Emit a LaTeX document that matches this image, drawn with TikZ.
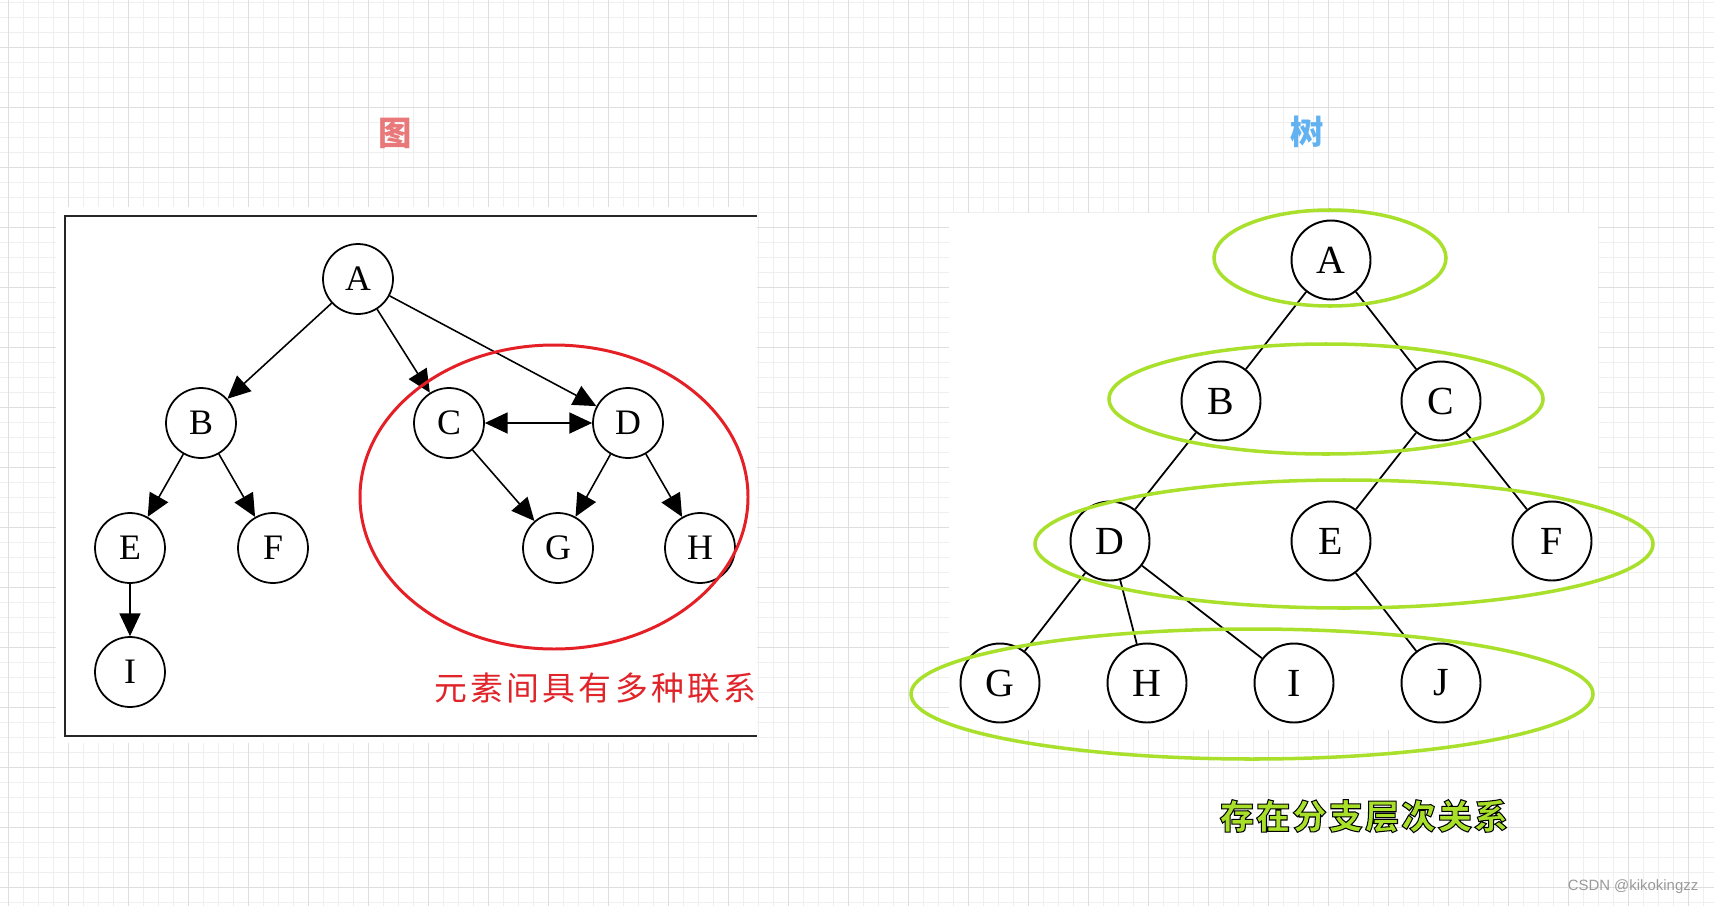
\documentclass[tikz,border=0pt]{standalone}
\usepackage{fontspec}
\setmainfont{Liberation Serif}
\newfontfamily\cjkfont{Noto Sans CJK SC}
\newfontfamily\cjkspaced[LetterSpace=10]{Noto Sans CJK SC}
\newfontfamily\cjkoutline[LetterSpace=6,BoldFeatures={FakeBold=3}]{Noto Sans CJK SC}
\newfontfamily\marksans{Liberation Sans}
\usepackage{xcolor}
\usetikzlibrary{arrows.meta}
\definecolor{gridMinor}{HTML}{EFEFEF}
\definecolor{gridMajor}{HTML}{DEDEDE}
\definecolor{ringGreen}{HTML}{A8E02C}
\definecolor{ringRed}{HTML}{E51F26}
\definecolor{noteRed}{HTML}{E0242A}
\definecolor{titleRed}{HTML}{E8787A}
\definecolor{titleBlue}{HTML}{62B2F2}
\definecolor{markGray}{HTML}{9A9A9A}

\begin{document}
\begin{tikzpicture}[x=0.02cm,y=-0.02cm,
    gnode/.style={circle,draw,line width=1pt,minimum size=1.4cm,inner sep=0pt,
      font=\fontsize{20.4}{20}\selectfont},
    tnode/.style={circle,draw,line width=1.1pt,minimum size=1.58cm,inner sep=0pt,
      font=\fontsize{22.7}{22}\selectfont},
    garrow/.style={line width=0.9pt,-{Triangle[length=13pt,width=12pt]}},
    gboth/.style={line width=0.9pt,{Triangle[length=13pt,width=12pt]}-{Triangle[length=13pt,width=12pt]}},
    tedge/.style={line width=1pt},
    levelring/.style={draw=ringGreen,line width=2pt},
    gridminor/.style={gridMinor,line width=0.55pt},
    gridmajor/.style={gridMajor,line width=0.55pt}]
  \useasboundingbox (0,0) rectangle (1714,906);
  \fill[white] (0,0) rectangle (1714,906);

  % Squared paper behind everything
  \foreach \x in {8,23,...,1714} \draw[gridminor] (\x,0) -- (\x,906);
  \foreach \y in {2,17,...,906} \draw[gridminor] (0,\y) -- (1714,\y);
  \foreach \x in {8,68,...,1714} \draw[gridmajor] (\x,0) -- (\x,906);
  \foreach \y in {47,107,...,906} \draw[gridmajor] (0,\y) -- (1714,\y);

  % Two white panels, the left one framed on three sides
  \fill[white] (56,207) rectangle (757,743);
  \draw[black!85, line width=1.5pt] (757,216) -- (65,216) -- (65,736) -- (757,736);
  \fill[white] (949,213) rectangle (1598,730);

  % Titles
  \node[text=titleRed, font={\cjkfont\bfseries\fontsize{19}{19}\selectfont}] (gtitle) at (395,133) {图};
  \node[text=titleBlue, font={\cjkfont\bfseries\fontsize{19}{19}\selectfont}] (ttitle) at (1307,132) {树};

  % Graph: nodes
  \node[gnode] (gA) at (358,279) {A};
  \node[gnode] (gB) at (201,423) {B};
  \node[gnode] (gC) at (449,423) {C};
  \node[gnode] (gD) at (628,423) {D};
  \node[gnode] (gE) at (130,548) {E};
  \node[gnode] (gF) at (273,548) {F};
  \node[gnode] (gG) at (558,548) {G};
  \node[gnode] (gH) at (700,548) {H};
  \node[gnode] (gI) at (130,672) {I};

  % Graph: directed edges
  \foreach \a/\b in {gA/gB,gA/gC,gA/gD,gB/gE,gB/gF,gC/gG,gD/gG,gD/gH,gE/gI}
    \draw[garrow] (\a) -- (\b);
  \draw[gboth] (gC) -- (gD);

  % Red ring round the cyclic part
  \draw[ringRed, line width=1.7pt] (554,497) ellipse [x radius=194, y radius=152];

  % Note, cut off by the panel edge
  \begin{scope}
    \clip (56,600) rectangle (757,735);
    \node[anchor=west, inner sep=0pt, text=noteRed,
      font={\cjkspaced\fontsize{18.7}{19}\selectfont}] (gnote) at (434,688) {元素间具有多种联系};
  \end{scope}

  % Tree: nodes by level
  \node[tnode] (tA) at (1331,260) {A};
  \node[tnode] (tB) at (1221,401) {B};
  \node[tnode] (tC) at (1441,401) {C};
  \node[tnode] (tD) at (1110,541) {D};
  \node[tnode] (tE) at (1331,541) {E};
  \node[tnode] (tF) at (1552,541) {F};
  \node[tnode] (tG) at (1000,683) {G};
  \node[tnode] (tH) at (1147,683) {H};
  \node[tnode] (tI) at (1294,683) {I};
  \node[tnode] (tJ) at (1441,683) {J};

  % Tree: edges
  \foreach \a/\b in {tA/tB,tA/tC,tB/tD,tC/tE,tC/tF,tD/tG,tD/tH,tD/tI,tE/tJ}
    \draw[tedge] (\a) -- (\b);

  % Green rings, one per level
  \foreach \cx/\cy/\rx/\ry in {1330/258/116/48, 1326/399/217/55, 1344/544/309/64, 1252/694/341/65}
    \draw[levelring] (\cx,\cy) ellipse [x radius=\rx, y radius=\ry];

  % Outlined note under the tree
  \node[inner sep=0pt, font={\cjkoutline\bfseries\fontsize{19.5}{20}\selectfont}] (tnote) at (1364,816)
    {\special{pdf:bcolor [0.66 0.88 0.16] [0 0 0]}存在分支层次关系\special{pdf:ecolor}};

  % Watermark
  \node[text=markGray, font={\marksans\fontsize{8.5}{8.5}\selectfont}] (mark) at (1633,887) {CSDN @kikokingzz};
\end{tikzpicture}
\end{document}
